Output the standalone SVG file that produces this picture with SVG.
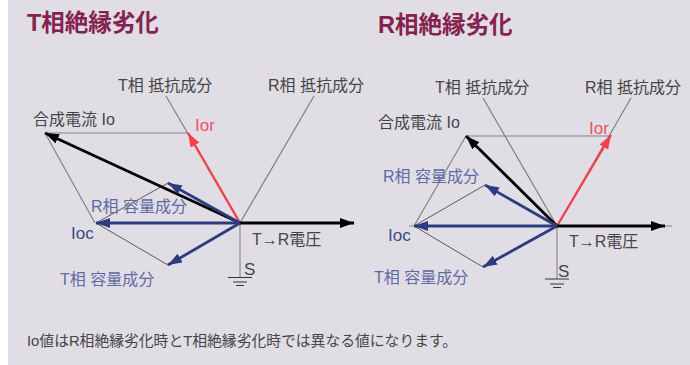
<svg xmlns="http://www.w3.org/2000/svg" width="690" height="365" viewBox="0 0 690 365">
<style>
text{font-family:"Liberation Sans","Noto Sans CJK JP",sans-serif;font-size:16px;fill:#454547}
.h{font-size:23.500px;font-weight:bold;fill:#86224f}
.b{fill:#5f6aa3}.r{fill:#f0505f;font-size:17px}.d{fill:#3d4888;font-size:17px}
.l{font-size:17px}
.g{stroke:#808084;stroke-width:1.2;fill:none}
.t{stroke:#4a4a4c;stroke-width:.9;fill:none}
.s{stroke:#a0a0a4;stroke-width:1.6;fill:none}
.k{stroke:#000;stroke-width:2.800;fill:none}
.n{stroke:#2f3b80;stroke-width:2.800;fill:none}
.e{stroke:#f5404e;stroke-width:2.400;fill:none}
.u{stroke:#333;stroke-width:1.1;fill:none}
</style>
<defs>
<marker id="mk" markerUnits="userSpaceOnUse" markerWidth="16" markerHeight="12" refX="14" refY="5" orient="auto"><path d="M0 0L14 5L0 10z" fill="#000"/></marker>
<marker id="mn" markerUnits="userSpaceOnUse" markerWidth="16" markerHeight="12" refX="14" refY="5" orient="auto"><path d="M0 0L14 5L0 10z" fill="#2f3b80"/></marker>
<marker id="me" markerUnits="userSpaceOnUse" markerWidth="16" markerHeight="12" refX="14" refY="5" orient="auto"><path d="M0 0L14 5L0 10z" fill="#f5404e"/></marker>
</defs>
<rect x="8" width="682" height="365" fill="#e0dee4"/>
<g id="connectors">
<g id="left-lines">
<path class="g" d="M166 96L240 223M314 96L240 223M45 133H188M45 133L95 223"/>
<path class="t" d="M96 223L168 183M96 223L168 265"/>
<path class="s" d="M240 223V277"/>
<path class="u" d="M228 277.500H252M233 282H247M236 285.500H244"/>
<path class="k" d="M240 223L45 133" marker-end="url(#mk)"/>
<path class="e" d="M240 223L188 133" marker-end="url(#me)"/>
<path class="k" d="M240 223H354" marker-end="url(#mk)"/>
<path class="n" d="M240 223H96" marker-end="url(#mn)"/>
<path class="n" d="M240 223L168 183" marker-end="url(#mn)"/>
<path class="n" d="M240 223L168 265" marker-end="url(#mn)"/>
</g>
<g id="right-lines">
<path class="g" d="M483 98L557 226M631 98L557 226M466 136H611M466 136L414 226M409 226H414M665 226H672"/>
<path class="t" d="M414 226L485 185M414 226L483 267"/>
<path class="s" d="M557 226V279"/>
<path class="u" d="M545 279H569M550 284H564M553 287.500H561"/>
<path class="k" d="M557 226L466 136" marker-end="url(#mk)"/>
<path class="e" d="M557 226L611 135" marker-end="url(#me)"/>
<path class="k" d="M557 226H665" marker-end="url(#mk)"/>
<path class="n" d="M557 226H414" marker-end="url(#mn)"/>
<path class="n" d="M557 226L485 185" marker-end="url(#mn)"/>
<path class="n" d="M557 226L483 267" marker-end="url(#mn)"/>
</g>
</g>
<g id="left-labels">
<text class="h" x="27" y="31">T相絶縁劣化</text>
<text x="118" y="91">T相 抵抗成分</text>
<text x="268" y="91">R相 抵抗成分</text>
<text x="33" y="125">合成電流 Io</text>
<text class="r" x="195" y="131">Ior</text>
<text class="b" x="91" y="212">R相 容量成分</text>
<text class="d" x="71" y="239">Ioc</text>
<text x="252" y="245">T→R電圧</text>
<text class="l" x="244" y="275">S</text>
<text class="b" x="60" y="285">T相 容量成分</text>
</g>
<g id="right-labels">
<text class="h" x="378" y="33">R相絶縁劣化</text>
<text x="435" y="93">T相 抵抗成分</text>
<text x="585" y="93">R相 抵抗成分</text>
<text x="378" y="128">合成電流 Io</text>
<text class="r" x="589" y="134">Ior</text>
<text class="b" x="383" y="182">R相 容量成分</text>
<text class="d" x="388" y="241">Ioc</text>
<text x="569" y="247">T→R電圧</text>
<text class="l" x="558" y="277">S</text>
<text class="b" x="374" y="283">T相 容量成分</text>
</g>
<text id="note" x="27" y="346" style="font-size:14.800px">Io値はR相絶縁劣化時とT相絶縁劣化時では異なる値になります。</text>
</svg>
